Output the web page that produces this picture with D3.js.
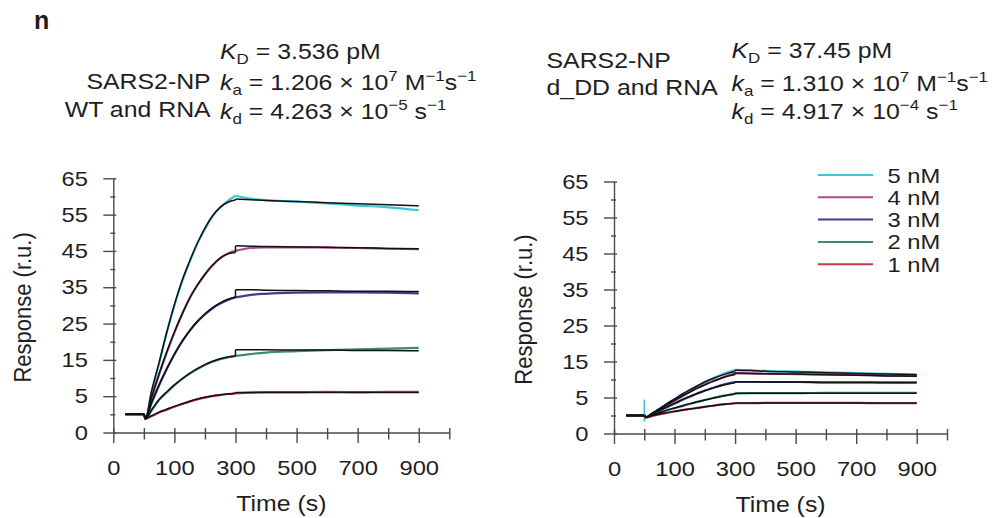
<!DOCTYPE html>
<meta charset="utf-8">
<script src="https://d3js.org/d3.v7.min.js"></script>
<style>
  body { margin: 0; background: #fff; }
  text { font-family: "Liberation Sans", Arial, Helvetica, sans-serif; fill: #1e1e1e; }
</style>
<svg id="chart" width="994" height="518"></svg>
<script>
// ---- data ----
const concentrations = ["5 nM", "4 nM", "3 nM", "2 nM", "1 nM"];
const seriesColors = ["#3fc6d6", "#b04a8c", "#3d3f8e", "#3f8b72", "#c8394a"];

const xTickValues = [-100, 100, 300, 500, 700, 900];
const xTickLabels = ["0", "100", "300", "500", "700", "900"];
const xMinorTicks = [0, 200, 400, 600, 800, 1000];
const yTickValues = [-5, 5, 15, 25, 35, 45, 55, 65];
const yTickLabels = ["0", "5", "15", "25", "35", "45", "55", "65"];
const yMinorTicks = [0, 10, 20, 30, 40, 50, 60];

// association phase (with baseline) and dissociation phase times, s
const tAssoc = [-60, 0, 5, 25, 50, 75, 100, 125, 150, 175, 200, 225, 250, 275, 300];
const tDiss = [300, 350, 400, 500, 600, 700, 800, 900];

// WT and RNA : measured traces and fitted curves (rows: 5,4,3,2,1 nM)
const wtAssocData = [
  [0, 0, -1.2, 6, 14, 22.5, 30, 36.5, 42, 47, 51, 54.5, 57, 58.8, 60.2],
  [0, 0, -1.2, 4.5, 11, 17, 22.5, 27.5, 32, 35.5, 38.5, 41, 43, 44.3, 45.0],
  [0, 0, -1.2, 3, 8, 12.5, 16.5, 20, 23, 25.5, 27.5, 29.2, 30.5, 31.5, 32.2],
  [0, 0, -1.2, 1, 4, 6, 8, 9.7, 11.2, 12.5, 13.6, 14.5, 15.2, 15.7, 16.1],
  [0, 0, -1.2, -0.5, 0.5, 1.3, 2.1, 2.8, 3.5, 4.1, 4.6, 5.0, 5.3, 5.6, 5.8]
];
const wtAssocFit = [
  [0, 0, -1.2, 6.3, 14.3, 22.6, 30.2, 36.8, 42.2, 47.1, 51.3, 54.7, 57.0, 58.4, 59.0],
  [0, 0, -1.2, 4.6, 11.2, 17.2, 22.7, 27.6, 32.0, 35.6, 38.6, 41.1, 43.0, 44.2, 44.6],
  [0, 0, -1.2, 3.2, 8.2, 12.6, 16.6, 20.1, 23.1, 25.6, 27.7, 29.4, 30.7, 31.7, 32.3],
  [0, 0, -1.2, 1.2, 4.1, 6.2, 8.1, 9.8, 11.3, 12.6, 13.7, 14.6, 15.3, 15.8, 16.0],
  [0, 0, -1.2, -0.4, 0.6, 1.4, 2.2, 2.9, 3.6, 4.2, 4.7, 5.1, 5.4, 5.6, 5.8]
];
const wtDissData = [
  [60.2, 59.4, 59.0, 58.6, 58.1, 57.5, 57.0, 56.2],
  [45.0, 45.8, 46.0, 46.0, 45.9, 45.8, 45.6, 45.5],
  [32.2, 32.9, 33.2, 33.5, 33.6, 33.6, 33.5, 33.3],
  [16.1, 16.6, 17.0, 17.4, 17.7, 17.9, 18.1, 18.3],
  [5.8, 6.0, 6.1, 6.1, 6.2, 6.1, 6.2, 6.2]
];
const wtDissFit = [
  [59.3, 59.1, 58.9, 58.6, 58.3, 58.0, 57.7, 57.4],
  [46.4, 46.3, 46.2, 46.1, 46.0, 45.9, 45.7, 45.6],
  [34.3, 34.3, 34.2, 34.1, 34.0, 33.9, 33.9, 33.8],
  [17.8, 17.8, 17.8, 17.7, 17.7, 17.6, 17.6, 17.5],
  [6.0, 6.0, 6.0, 6.0, 6.0, 6.0, 6.0, 6.0]
];

// d_DD and RNA
const ddAssocData = [
  [0, 0, -0.5, 0.5, 1.8, 3.2, 4.5, 5.8, 7.0, 8.2, 9.3, 10.3, 11.2, 12.0, 12.7],
  [0, 0, -0.5, 0.4, 1.6, 2.9, 4.1, 5.3, 6.5, 7.6, 8.6, 9.5, 10.3, 11.1, 11.7],
  [0, 0, -0.5, 0.3, 1.3, 2.3, 3.3, 4.3, 5.2, 6.1, 6.9, 7.6, 8.3, 8.9, 9.3],
  [0, 0, -0.5, 0.0, 0.7, 1.4, 2.0, 2.6, 3.2, 3.8, 4.3, 4.8, 5.3, 5.7, 6.1],
  [0, 0, -0.5, -0.2, 0.3, 0.7, 1.1, 1.5, 1.8, 2.1, 2.4, 2.7, 3.0, 3.2, 3.4]
];
const ddAssocFit = [
  [0, 0, -0.5, 0.6, 1.9, 3.3, 4.6, 5.9, 7.1, 8.2, 9.3, 10.2, 11.0, 11.7, 12.2],
  [0, 0, -0.5, 0.5, 1.7, 3.0, 4.2, 5.4, 6.5, 7.6, 8.5, 9.4, 10.2, 10.9, 11.4],
  [0, 0, -0.5, 0.4, 1.4, 2.4, 3.4, 4.4, 5.3, 6.1, 6.9, 7.6, 8.2, 8.7, 9.1],
  [0, 0, -0.5, 0.1, 0.8, 1.5, 2.1, 2.7, 3.3, 3.8, 4.3, 4.8, 5.2, 5.6, 6.0],
  [0, 0, -0.5, -0.1, 0.4, 0.8, 1.2, 1.5, 1.8, 2.1, 2.4, 2.7, 3.0, 3.2, 3.4]
];
const ddDissData = [
  [12.7, 12.6, 12.4, 12.2, 12.0, 11.8, 11.6, 11.4],
  [11.7, 11.7, 11.6, 11.5, 11.4, 11.3, 11.1, 11.0],
  [9.3, 9.3, 9.3, 9.3, 9.2, 9.2, 9.2, 9.2],
  [6.1, 6.2, 6.2, 6.2, 6.3, 6.3, 6.3, 6.3],
  [3.4, 3.4, 3.5, 3.5, 3.5, 3.5, 3.4, 3.4]
];
const ddDissFit = [
  [12.6, 12.5, 12.3, 12.1, 11.9, 11.7, 11.5, 11.3],
  [11.8, 11.7, 11.6, 11.5, 11.3, 11.2, 11.0, 10.9],
  [9.4, 9.4, 9.3, 9.3, 9.2, 9.2, 9.1, 9.1],
  [6.2, 6.2, 6.2, 6.2, 6.2, 6.2, 6.2, 6.2],
  [3.5, 3.5, 3.5, 3.5, 3.5, 3.5, 3.5, 3.5]
];
// injection spike of the 5 nM trace at t = 0
const ddSpike = [4.4, -1.7];

// ---- drawing ----
const svg = d3.select("#chart");
const STRETCH = 1.13; // the figure text is slightly wide

function stretchText(sel, x, y, size, anchor) {
  return sel.append("text")
    .attr("transform", `translate(${x},${y}) scale(${STRETCH},1)`)
    .style("font-size", size + "px")
    .attr("text-anchor", anchor || "start");
}

// rich text: parts = [text, kind] with kind "i", "sub", "sup" or none
function richText(x, y, parts, anchor) {
  const t = stretchText(svg, x, y, 22, anchor);
  let shift = 0;
  parts.forEach(p => {
    const kind = p[1];
    const target = kind === "sub" ? 5 : kind === "sup" ? -9 : 0;
    const ts = t.append("tspan").text(p[0]).attr("dy", target - shift);
    shift = target;
    if (kind === "i") ts.style("font-style", "italic");
    if (kind === "sub" || kind === "sup") ts.style("font-size", "15px");
  });
  return t;
}

const panels = [
  { x0: 113.3, x1: 449.3, y0: 432.5, y1: 178.3,
    assocData: wtAssocData, assocFit: wtAssocFit, dissData: wtDissData, dissFit: wtDissFit },
  { x0: 614, x1: 947, y0: 433.5, y1: 181.5,
    assocData: ddAssocData, assocFit: ddAssocFit, dissData: ddDissData, dissFit: ddDissFit,
    spike: ddSpike, legend: true }
];

panels.forEach(p => {
  const x = d3.scaleLinear().domain([-100, 1000]).range([p.x0, p.x1]);
  const y = d3.scaleLinear().domain([-5, 65]).range([p.y0, p.y1]);
  const g = svg.append("g");
  const axisColor = "#4a4a4a";

  // y axis
  const yAxis = g.append("g").attr("transform", `translate(${p.x0},0)`)
    .call(d3.axisLeft(y).tickValues(yTickValues).tickSizeOuter(0)
      .tickFormat((d, i) => yTickLabels[i]));
  yAxis.selectAll(".tick line").attr("x1", 3).attr("x2", -10);
  yAxis.selectAll(".tick text")
    .attr("x", -25.5 / STRETCH).attr("transform", `scale(${STRETCH},1)`)
    .style("font-size", "21px").style("font-family", "Liberation Sans, Arial, sans-serif")
    .attr("fill", "#1e1e1e");
  const yMinor = g.append("g").attr("transform", `translate(${p.x0},0)`)
    .call(d3.axisLeft(y).tickValues(yMinorTicks).tickFormat("").tickSizeOuter(0));
  yMinor.select(".domain").remove();
  yMinor.selectAll(".tick line").attr("x1", 2).attr("x2", -3);

  // x axis
  const xAxis = g.append("g").attr("transform", `translate(0,${p.y0})`)
    .call(d3.axisBottom(x).tickValues(xTickValues).tickSizeOuter(0)
      .tickFormat((d, i) => xTickLabels[i]));
  xAxis.selectAll(".tick line").attr("y1", -4.5).attr("y2", 10.5);
  xAxis.selectAll(".tick text")
    .attr("y", 42.5).attr("dy", 0).attr("transform", `scale(${STRETCH},1)`)
    .style("font-size", "21px").style("font-family", "Liberation Sans, Arial, sans-serif")
    .attr("fill", "#1e1e1e");
  const xMinor = g.append("g").attr("transform", `translate(0,${p.y0})`)
    .call(d3.axisBottom(x).tickValues(xMinorTicks).tickFormat("").tickSizeOuter(0));
  xMinor.select(".domain").remove();
  xMinor.selectAll(".tick line").attr("y1", -4.5).attr("y2", 7);

  g.selectAll(".domain, .tick line").attr("stroke", axisColor).attr("stroke-width", 1.4);

  // axis titles
  stretchText(g, (p.x0 + p.x1) / 2, p.y0 + 78, 22, "middle").text("Time (s)");
  g.append("text")
    .attr("transform", `translate(${p.x0 - 82},${(p.y0 + p.y1) / 2 + 2}) scale(${STRETCH * 0.94},1) rotate(-90)`)
    .attr("text-anchor", "middle").style("font-size", "22px")
    .text("Response (r.u.)");

  const line = d3.line().x(d => x(d[0])).y(d => y(d[1])).curve(d3.curveMonotoneX);
  const straight = d3.line().x(d => x(d[0])).y(d => y(d[1]));
  const curves = g.append("g").attr("fill", "none").attr("stroke-linejoin", "round");

  // measured traces (coloured)
  concentrations.forEach((c, i) => {
    curves.append("path")
      .attr("d", line(tAssoc.map((t, k) => [t, p.assocData[i][k]])))
      .attr("stroke", seriesColors[i]).attr("stroke-width", 2.2);
    curves.append("path")
      .attr("d", line(tDiss.map((t, k) => [t, p.dissData[i][k]])))
      .attr("stroke", seriesColors[i]).attr("stroke-width", 2.2);
  });
  if (p.spike) {
    curves.append("path")
      .attr("d", straight(p.spike.map(v => [0, v])))
      .attr("stroke", seriesColors[0]).attr("stroke-width", 1.6);
  }

  // fitted curves (black)
  concentrations.forEach((c, i) => {
    const a = p.assocFit[i], dfit = p.dissFit[i];
    curves.append("path")
      .attr("d", line(tAssoc.map((t, k) => [t, a[k]])))
      .attr("stroke", "#111").attr("stroke-width", 1.5);
    curves.append("path")
      .attr("d", straight([[300, a[a.length - 1]], [300, dfit[0]]]))
      .attr("stroke", "#111").attr("stroke-width", 1.5);
    curves.append("path")
      .attr("d", line(tDiss.map((t, k) => [t, dfit[k]])))
      .attr("stroke", "#111").attr("stroke-width", 1.5);
  });

  if (p.legend) {
    const lg = g.append("g");
    concentrations.forEach((c, i) => {
      const ly = 175 + i * 22.3;
      lg.append("line").attr("x1", 818).attr("x2", 873).attr("y1", ly).attr("y2", ly)
        .attr("stroke", seriesColors[i]).attr("stroke-width", 2);
      stretchText(lg, 887.5, ly + 7.5, 21).text(c);
    });
  }
});

// panel letter
svg.append("text").attr("x", 34).attr("y", 29).style("font-size", "25px")
  .style("font-weight", "bold").text("n");

// kinetic constants, left panel
stretchText(svg, 210.7, 89, 22, "end").text("SARS2-NP");
stretchText(svg, 210.7, 117, 22, "end").text("WT and RNA");
richText(220, 59, [["K", "i"], ["D", "sub"], [" = 3.536 pM"]]);
richText(220, 89.5, [["k", "i"], ["a", "sub"], [" = 1.206 × 10"], ["7", "sup"], [" M"], ["−1", "sup"], ["s"], ["−1", "sup"]]);
richText(220, 119, [["k", "i"], ["d", "sub"], [" = 4.263 × 10"], ["−5", "sup"], [" s"], ["−1", "sup"]]);

// kinetic constants, right panel
stretchText(svg, 546.5, 68.3, 22).text("SARS2-NP");
stretchText(svg, 546.5, 95, 22).text("d_DD and RNA");
richText(731.5, 58.3, [["K", "i"], ["D", "sub"], [" = 37.45 pM"]]);
richText(731.5, 90.5, [["k", "i"], ["a", "sub"], [" = 1.310 × 10"], ["7", "sup"], [" M"], ["−1", "sup"], ["s"], ["−1", "sup"]]);
richText(731.5, 118.5, [["k", "i"], ["d", "sub"], [" = 4.917 × 10"], ["−4", "sup"], [" s"], ["−1", "sup"]]);
</script>
